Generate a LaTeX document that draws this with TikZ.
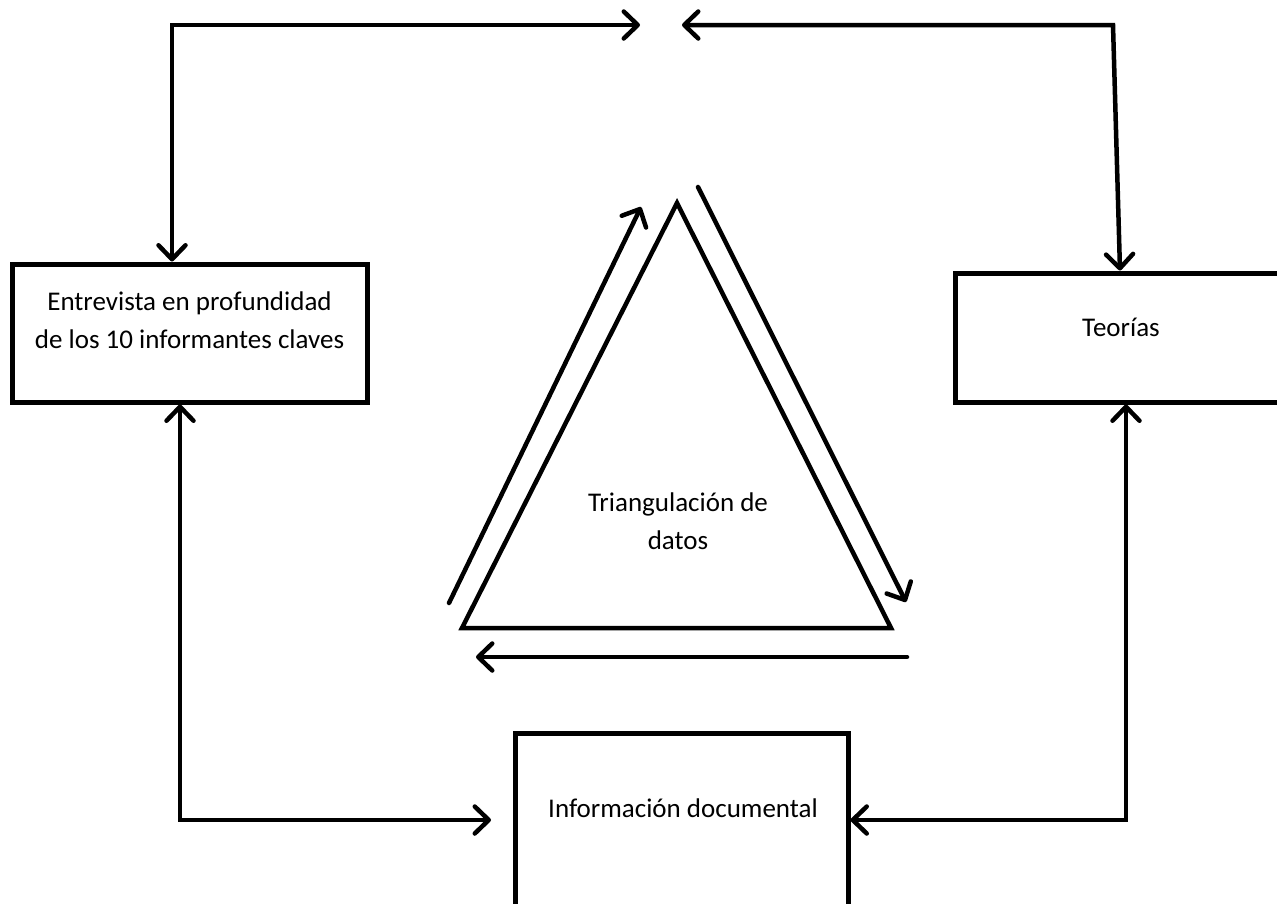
\documentclass[tikz,border=0pt]{standalone}
\usepackage{fontspec}
\setmainfont{Carlito}
\usetikzlibrary{arrows.meta,calc}
\begin{document}
\begin{tikzpicture}[x=1pt,y=-1pt,
  box/.style={draw=black,line width=5pt,rectangle,inner sep=0pt},
  lbl/.style={align=center,font=\fontsize{27}{38}\selectfont,inner sep=0pt},
  conn/.style={line width=4.5pt,line cap=round,line join=miter,
    arrows={Straight Barb[length=14pt,width=27pt,line cap=round,line join=round]-Straight Barb[length=14pt,width=27pt,line cap=round,line join=round]}},
  oneway/.style={line width=4.5pt,line cap=round,
    -{Straight Barb[length=14pt,width=27pt,line cap=round,line join=round]}}]
\clip (0,0) rectangle (1277,903);
\fill[white] (0,0) rectangle (1277,903);
% boxes
\node[box,minimum width=355pt,minimum height=138pt] (E) at (189.5,333) {};
\node[lbl] (Et) at (189.5,320) {Entrevista en profundidad\\de los 10 informantes claves};
\node[box,minimum width=332pt,minimum height=129pt] (T) at (1121,337.5) {};
\node[lbl] (Tt) at (1121,327) {Teorías};
\node[box,minimum width=333pt,minimum height=190pt] (I) at (681.5,828) {};
\node[lbl] (It) at (683,808) {Información documental};
% top connectors
\coordinate (tl) at (640,25);
\coordinate (tr) at (682,25);
\coordinate (trc) at (1113,25);
\coordinate (bl) at (491,820);
\draw[conn] ([xshift=-17.5pt]E.north) |- (tl);
\draw[conn] (tr) -- (trc) -- ([xshift=-1pt]T.north);
\draw[conn] ([xshift=-9.5pt]E.south) |- (bl);
\draw[conn] ([xshift=5pt]T.south) |- ([yshift=8pt]I.east);
% triangle
\coordinate (A) at (677,203);
\coordinate (B) at (462,628);
\coordinate (C) at (891,628);
\draw[line width=4.5pt,line join=miter] (A) -- (B) -- (C) -- cycle;
\node[lbl] (Tr) at (678,521) {Triangulación de\\datos};
% triangle arrows
\coordinate (l1) at (449,603); \coordinate (l2) at (641,207);
\coordinate (r1) at (698,187); \coordinate (r2) at (906,602);
\coordinate (b1) at (907,657); \coordinate (b2) at (476,657);
\draw[oneway] (l1) -- (l2);
\draw[oneway] (r1) -- (r2);
\draw[oneway] (b1) -- (b2);
\end{tikzpicture}
\end{document}
